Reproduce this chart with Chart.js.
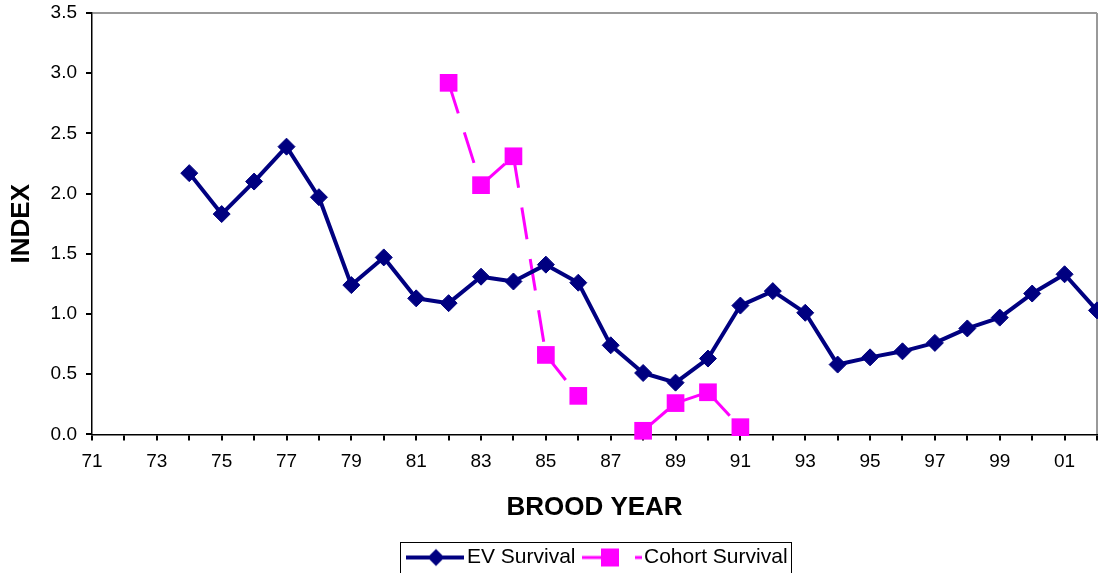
<!DOCTYPE html>
<html>
<head>
<meta charset="utf-8">
<script src="https://cdn.jsdelivr.net/npm/chart.js@4.4.1/dist/chart.umd.min.js"></script>
<style>
  html, body { margin: 0; padding: 0; background: #fff; overflow: hidden; }
  #wrap { width: 1098px; height: 573px; }
</style>
</head>
<body>
<div id="wrap"><canvas id="chart1"></canvas></div>
<script>
var years = ['71','72','73','74','75','76','77','78','79','80','81','82','83','84','85','86',
             '87','88','89','90','91','92','93','94','95','96','97','98','99','00','01','02']

var ev_survival = [null, null, null, 2.17, 1.83, 2.10, 2.39, 1.97, 1.24, 1.47, 1.13, 1.09, 1.31, 1.27, 1.41, 1.26,
                   0.74, 0.51, 0.43, 0.63, 1.07, 1.19, 1.01, 0.58, 0.64, 0.69, 0.76, 0.88, 0.97, 1.17, 1.33, 1.03]

var cohort_survival = [null, null, null, null, null, null, null, null, null, null, null, 2.92, 2.07, 2.31, 0.66, 0.32,
                       null, 0.03, 0.26, 0.35, 0.06, null, null, null, null, null, null, null, null, null, null, null]

var y_ticks = [0, 0.5, 1.0, 1.5, 2.0, 2.5, 3.0, 3.5]

var NAVY = '#000080'
var PINK = '#ff00ff'

// legend icons: line with marker, like the excel legend
function makeIcon(kind) {
    var c = document.createElement('canvas')
    c.width = 60
    c.height = 20
    var g = c.getContext('2d')
    if (kind == 'ev') {
        g.strokeStyle = NAVY
        g.lineWidth = 4
        g.beginPath(); g.moveTo(1, 10); g.lineTo(59, 10); g.stroke()
        g.fillStyle = NAVY
        g.beginPath(); g.moveTo(31, 1.5); g.lineTo(39.5, 10); g.lineTo(31, 18.5); g.lineTo(22.5, 10); g.closePath(); g.fill()
    } else {
        g.strokeStyle = PINK
        g.lineWidth = 3
        g.beginPath(); g.moveTo(0, 10); g.lineTo(32, 10); g.moveTo(53, 10); g.lineTo(60, 10); g.stroke()
        g.fillStyle = PINK
        g.fillRect(19, 1, 18, 18)
    }
    return c
}

// legend is centred under the plot area, with a thin box round it
var legendBorder = {
    id: 'legendBorder',
    afterUpdate: function(chart) {
        var lg = chart.legend
        var shift = 6
        lg.left += shift
        lg.right += shift
        lg.legendHitBoxes.forEach(function(h) { h.left += shift })
    },
    afterDraw: function(chart) {
        var hb = chart.legend.legendHitBoxes
        if (!hb || !hb.length) return
        var ctx = chart.ctx
        var l = hb[0].left - 13
        var r = hb[hb.length - 1].left + hb[hb.length - 1].width + 4
        var t = hb[0].top - 5
        ctx.save()
        ctx.strokeStyle = '#000'
        ctx.lineWidth = 1
        ctx.strokeRect(Math.round(l) + 0.5, Math.round(t) + 0.5, Math.round(r - l), 60)
        ctx.restore()
    }
}

var chart1 = new Chart(
    document.getElementById('chart1'),
    {
        type: 'line',
        data: {
            labels: years,
            datasets: [
                {
                    label: 'EV Survival',
                    data: ev_survival,
                    borderColor: NAVY,
                    backgroundColor: NAVY,
                    borderWidth: 4,
                    borderJoinStyle: 'round',
                    pointStyle: 'rectRot',
                    pointRadius: 8.5,
                    pointBorderWidth: 1,
                    tension: 0,
                    spanGaps: false,
                    clip: false,
                },
                {
                    label: 'Cohort Survival',
                    data: cohort_survival,
                    borderColor: PINK,
                    backgroundColor: PINK,
                    borderWidth: 3,
                    borderDash: [32, 20],
                    pointStyle: 'rect',
                    pointRadius: 12.5,
                    pointBorderWidth: 0,
                    tension: 0,
                    spanGaps: false,
                    clip: false,
                    // restart the dash pattern on each segment
                    segment: {
                        borderDashOffset: function(ctx) { return (ctx.p0DataIndex % 2) * 0.01 }
                    }
                },
            ]
        },
        options: {
            responsive: true,
            maintainAspectRatio: false,
            animation: false,
            layout: { autoPadding: false, padding: { top: 13, right: 1, left: 0, bottom: -5 } },
            plugins: {
                tooltip: { enabled: false },
                legend: {
                    position: 'bottom',
                    fullSize: false,
                    labels: {
                        usePointStyle: true,
                        pointStyleWidth: 43,
                        boxHeight: 21,
                        padding: 15,
                        color: '#000',
                        font: { family: 'Liberation Sans', size: 21 },
                        generateLabels: function(chart) {
                            return [
                                { text: 'EV Survival', pointStyle: makeIcon('ev'), datasetIndex: 0, hidden: false, fontColor: '#000', lineWidth: 0 },
                                { text: 'Cohort Survival', pointStyle: makeIcon('cohort'), datasetIndex: 1, hidden: false, fontColor: '#000', lineWidth: 0 }
                            ]
                        }
                    }
                }
            },
            scales: {
                x: {
                    type: 'category',
                    offset: false,
                    afterFit: function(scale) { scale.paddingLeft = 0; scale.paddingRight = 0 },
                    border: { display: true, color: '#000', width: 1.5 },
                    grid: {
                        drawOnChartArea: true,
                        drawTicks: true,
                        tickLength: 6,
                        tickColor: '#000',
                        lineWidth: 2,
                        color: function(ctx) { return ctx.index === years.length - 1 ? '#999' : 'rgba(0,0,0,0)' }
                    },
                    ticks: {
                        autoSkip: false,
                        maxRotation: 0,
                        padding: 9.6,
                        color: '#000',
                        font: { family: 'Liberation Sans', size: 19 },
                        callback: function(v, i) { return i % 2 === 0 ? years[i] : '' }
                    },
                    title: {
                        display: true,
                        text: 'BROOD YEAR',
                        color: '#000',
                        font: { family: 'Liberation Sans', size: 26, weight: 'bold' },
                        padding: { top: 10, bottom: 8.4 }
                    }
                },
                y: {
                    min: 0,
                    max: 3.5,
                    afterFit: function(scale) { scale.width = 92; scale.paddingTop = 0; scale.paddingBottom = 0 },
                    afterBuildTicks: function(scale) { scale.ticks = y_ticks.map(function(v) { return { value: v } }) },
                    border: { display: true, color: '#000', width: 1.5 },
                    grid: {
                        drawOnChartArea: true,
                        drawTicks: true,
                        tickLength: 6,
                        tickColor: '#000',
                        lineWidth: 2,
                        color: function(ctx) { return ctx.tick && ctx.tick.value === 3.5 ? '#999' : 'rgba(0,0,0,0)' }
                    },
                    ticks: {
                        padding: 9,
                        color: '#000',
                        font: { family: 'Liberation Sans', size: 19 },
                        callback: function(v) { return v.toFixed(1) }
                    },
                    title: {
                        display: true,
                        text: 'INDEX',
                        color: '#000',
                        font: { family: 'Liberation Sans', size: 26, weight: 'bold' },
                        padding: { top: 6, bottom: 0 }
                    }
                }
            }
        },
        plugins: [legendBorder]
    }
);
</script>
</body>
</html>
